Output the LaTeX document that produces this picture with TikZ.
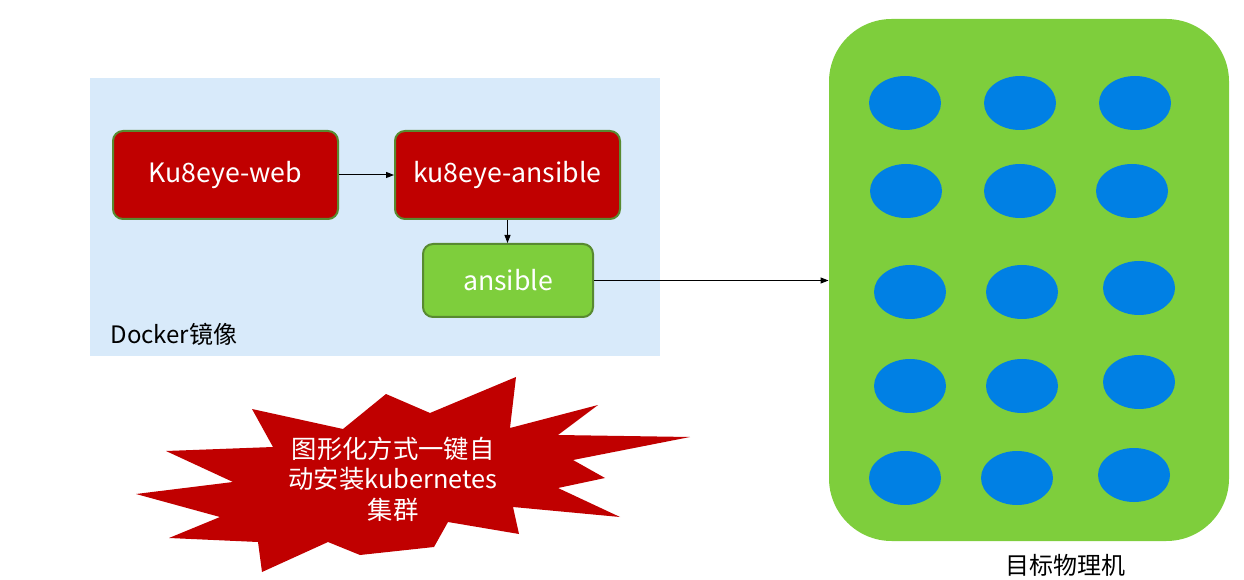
\documentclass[tikz,border=0pt]{standalone}
\usepackage{fontspec}
\setmainfont{Noto Sans CJK SC}
\usetikzlibrary{arrows.meta,shapes.geometric}

\definecolor{boxred}{RGB}{192,0,0}
\definecolor{boxgreen}{RGB}{126,206,60}
\definecolor{edgegreen}{RGB}{88,138,48}
\definecolor{dockerblue}{RGB}{216,234,250}
\definecolor{hostblue}{RGB}{0,128,228}

\tikzset{every picture/.style={line width=0.75pt}}
\tikzset{
  redbox/.style={draw=edgegreen, line width=1.5pt, fill=boxred, rounded corners=7.5pt, text=white,
    font=\fontsize{20}{24}\selectfont, minimum width=168.75pt, minimum height=66pt, inner sep=0pt},
  greenbox/.style={redbox, fill=boxgreen, minimum width=127.5pt, minimum height=54.75pt},
  hostdot/.style={ellipse, fill=hostblue, minimum width=54pt, minimum height=40.5pt, inner sep=0pt},
  link/.style={-{Triangle[length=6pt,width=4.5pt]}, line width=0.75pt},
}

\begin{document}
\begin{tikzpicture}[x=0.75pt,y=0.75pt,yscale=-1,xscale=1]
\useasboundingbox (0,0) rectangle (1244,580);

%Shape: Rectangle (docker image)
\fill [dockerblue] (90,78) rectangle (660,356);
% Text Node
\node (docker) [anchor=west, inner sep=0pt, font=\fontsize{18}{22}\selectfont] at (110,334) {Docker镜像};

% boxes
\node (web) [redbox] at (225.5,175) {Ku8eye-web};
\node (ku8) [redbox] at (507.5,175) {ku8eye-ansible};
\node (ansible) [greenbox] at (508,280.5) {ansible};

%Rounded Rect (target machines)
\node (target) [fill=boxgreen, rounded corners=47pt, minimum width=300pt, minimum height=391.5pt, inner sep=0pt] at (1029,280) {};
\foreach \cx/\cy [count=\i] in {905/103, 1020/103, 1135/103,
                                906/191, 1020/191, 1132/191,
                                910/292, 1022/292, 1139/288,
                                910/386, 1022/386, 1139/382,
                                905/478, 1017/478, 1134/475}
  \node (host\i) [hostdot] at (\cx,\cy) {};
% Text Node
\node (targetlabel) [font=\fontsize{18}{22}\selectfont] at (1065,565) {目标物理机};

% arrows
\draw [link] (web.east) -- (ku8.west);
\draw [link] (ku8.south) -- (ku8.south |- ansible.north);
\draw [link] (ansible.east) -- (ansible.east -| target.west);

%Shape: Explosion
\fill [boxred] (136,494) -- (233,482) -- (166,451) -- (273,447) -- (252,409) -- (343,429) -- (386,394)
  -- (430,413) -- (516,377) -- (510,428) -- (598,405) -- (558,435) -- (690,437) -- (573,460)
  -- (605,478) -- (558,488) -- (620,517) -- (513,507) -- (519,534) -- (448,522) -- (434,547)
  -- (360,555) -- (328,542) -- (262,572) -- (258,542) -- (169,538) -- (220,517) -- cycle;
% Text Node
\node (slogan) [text=white, align=center, font=\fontsize{19}{23}\selectfont] at (393,479) {图形化方式一键自\\动安装kubernetes\\集群};

\end{tikzpicture}
\end{document}
